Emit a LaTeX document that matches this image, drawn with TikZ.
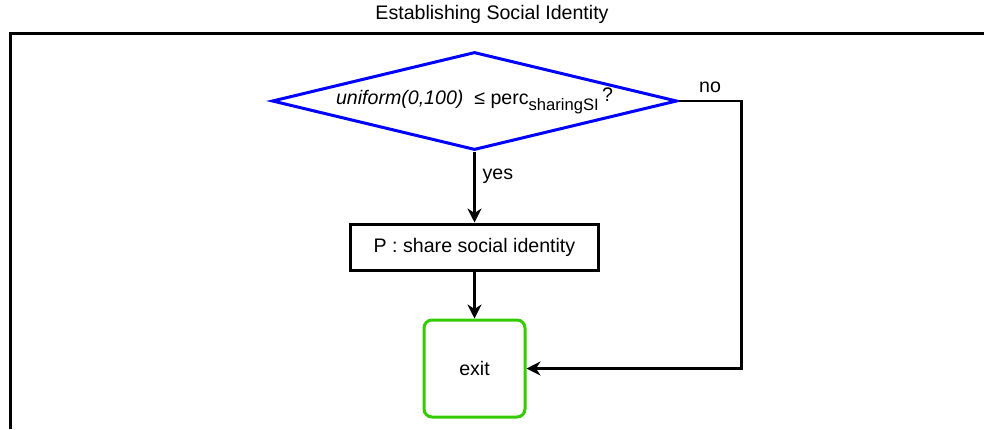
\documentclass[tikz,border=0pt]{standalone}
\usepackage{fontspec}
\setmainfont{Liberation Sans}
\usetikzlibrary{shapes.geometric, arrows.meta, positioning}
\definecolor{exitgreen}{RGB}{51,204,0}

\begin{document}
\begin{tikzpicture}[x=0.5pt, y=-0.5pt, >={Stealth[length=7pt, width=7pt]},
    node distance=73pt, on grid, auto, font=\fontsize{9.8}{12}\selectfont]
  \tikzset{
    decision/.style={diamond, draw=blue, line width=1.5pt, aspect=4.13,
      minimum width=202.5pt, minimum height=49pt, inner sep=0pt},
    action/.style={rectangle, draw, line width=1.5pt,
      minimum width=124pt, minimum height=23pt},
    terminal/.style={rectangle, rounded corners=4pt, draw=exitgreen, line width=1.5pt,
      minimum width=50.5pt, minimum height=48.5pt},
    flow/.style={->, line width=1.4pt}
  }
  \useasboundingbox (0,0) rectangle (984,429);
  \draw[line width=1.5pt] (10,429) -- (10,33) -- (984,33);
  \node (title) at (492,14) {Establishing Social Identity};
  \node[decision] (D) at (474.5,101) {\textit{uniform(0,100)}\ \ ≤ perc\raisebox{-3pt}{\fontsize{8.3}{10}\selectfont sharingSI}\,\raisebox{1.5pt}{?}};
  \node[action] (P) [below=of D] {P : share social identity};
  \node[terminal] (E) [below=60.75pt of P] {exit};
  \path[flow]
    (D) edge node[pos=0.35] {yes} (P)
    (P) edge (E);
  \draw[flow] (D.east) -- node {no} ++(63,0) |- (E.east);
\end{tikzpicture}
\end{document}
